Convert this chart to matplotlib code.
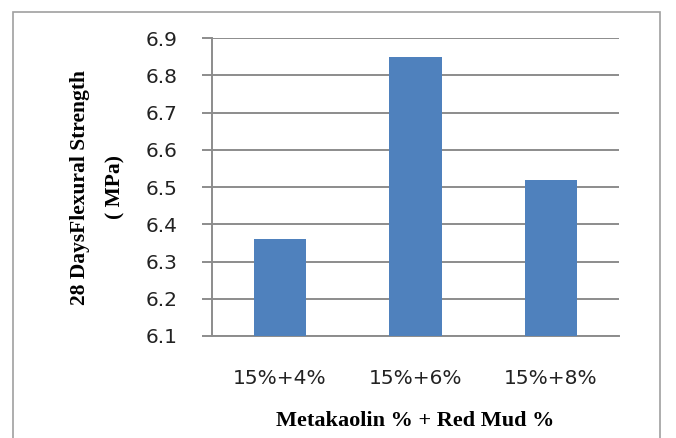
import matplotlib.pyplot as plt
from matplotlib.patches import Rectangle

# data
mixes = ['15%+4%', '15%+6%', '15%+8%']
strength = [6.36, 6.85, 6.52]
yticks = [6.1, 6.2, 6.3, 6.4, 6.5, 6.6, 6.7, 6.8, 6.9]

bar_color = '#4F81BD'
grid_color = '#8C8C8C'

fig = plt.figure(figsize=(6.76, 4.38), dpi=100)
ax = fig.add_axes([0.3136, 0.2329, 0.602, 0.680])

# outer chart border
fig.patches.append(Rectangle((13 / 676, -0.01), 647 / 676, 1 - 12 / 438 + 0.01,
                             transform=fig.transFigure, fill=False,
                             edgecolor='#A0A0A0', lw=1.2))

x = range(len(mixes))
ax.bar(x, strength, width=0.385, color=bar_color, zorder=3)

ax.set_ylim(6.1, 6.9)
ax.set_xlim(-0.5, len(mixes) - 0.5)
ax.set_yticks(yticks)
ax.set_yticklabels([f'{v:.1f}' for v in yticks], fontsize=14.5, color='#222222')
ax.set_xticks(list(x))
ax.set_xticklabels(mixes, fontsize=14.5, color='#222222')

ax.yaxis.grid(True, color=grid_color, lw=1.4, zorder=0)
ax.set_axisbelow(True)
for s in ['top', 'right']:
    ax.spines[s].set_visible(False)
ax.spines['left'].set_color(grid_color)
ax.spines['left'].set_linewidth(1.4)
ax.spines['bottom'].set_color(grid_color)
ax.spines['bottom'].set_linewidth(1.4)
ax.tick_params(axis='y', length=7, width=1.4, color=grid_color, pad=18)
ax.tick_params(axis='x', length=0, pad=24)

ax.set_xlabel('Metakaolin % + Red Mud %', fontsize=16, fontweight='bold',
              family='Liberation Serif', labelpad=16)
ax.set_ylabel('28 DaysFlexural Strength\n( MPa)', fontsize=15.5, fontweight='bold',
              family='Liberation Serif', labelpad=14, linespacing=2.05)

fig.savefig('out.png', dpi=100)
